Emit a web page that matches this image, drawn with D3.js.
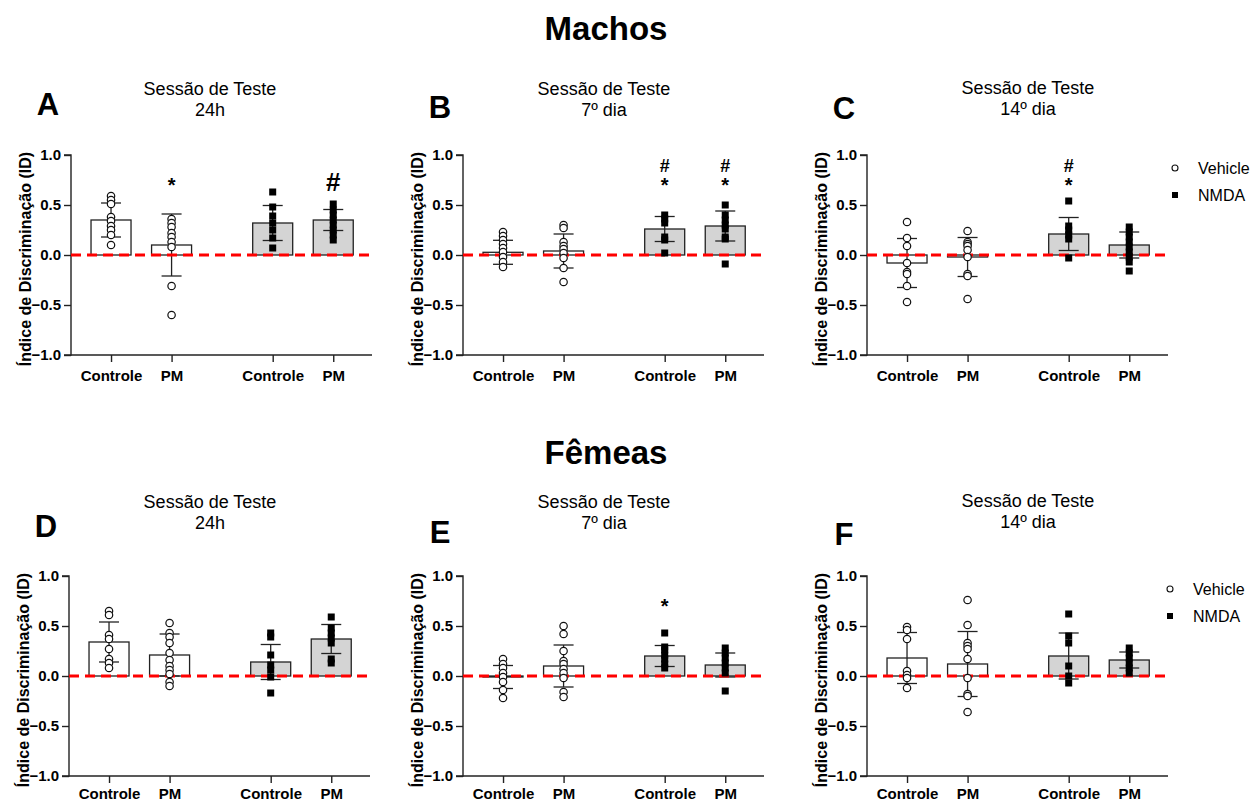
<!DOCTYPE html>
<html>
<head>
<meta charset="utf-8">
<script src="https://cdn.jsdelivr.net/npm/d3@7"></script>
<style>
  body { margin: 0; background: #fff; }
  svg { font-family: "Liberation Sans", Arial, sans-serif; }
</style>
</head>
<body>
<div id="chart"></div>
<script>
// svg size
var svgWidth = 1252;
var svgHeight = 803;

// groups on the x axis (vehicle, vehicle, NMDA, NMDA)
var groupLabels = ["Controle", "PM", "Controle", "PM"];
var groupTreatment = ["Vehicle", "Vehicle", "NMDA", "NMDA"];
var yTicks = [-1.0, -0.5, 0.0, 0.5, 1.0];

// ---- Machos ----
var machos24Mean = [0.35, 0.10, 0.32, 0.35];
var machos24Sd = [0.17, 0.31, 0.175, 0.105];
var machos24Points = [
  [0.59, 0.55, 0.51, 0.38, 0.34, 0.29, 0.25, 0.20, 0.10],
  [0.36, 0.32, 0.28, 0.22, 0.18, 0.13, 0.08, -0.31, -0.60],
  [0.63, 0.48, 0.39, 0.32, 0.25, 0.17, 0.07],
  [0.51, 0.45, 0.40, 0.35, 0.30, 0.25, 0.20, 0.15]
];
var machos24Marks = [[], ["*"], [], ["#"]];

var machos7Mean = [0.027, 0.04, 0.26, 0.29];
var machos7Sd = [0.12, 0.17, 0.125, 0.15];
var machos7Points = [
  [0.23, 0.19, 0.15, 0.11, 0.07, 0.03, -0.02, -0.07, -0.12],
  [0.30, 0.27, 0.13, 0.09, 0.06, 0.02, -0.03, -0.13, -0.27],
  [0.40, 0.36, 0.32, 0.18, 0.15, 0.02],
  [0.50, 0.40, 0.35, 0.30, 0.26, 0.18, 0.16, -0.09]
];
var machos7Marks = [[], [], ["*", "#"], ["*", "#"]];

var machos14Mean = [-0.08, -0.02, 0.21, 0.10];
var machos14Sd = [0.245, 0.195, 0.165, 0.13];
var machos14Points = [
  [0.33, 0.17, 0.09, -0.08, -0.17, -0.19, -0.31, -0.47],
  [0.24, 0.13, 0.11, 0.09, 0.05, -0.02, -0.19, -0.21, -0.44],
  [0.54, 0.29, 0.25, 0.20, 0.16, -0.03],
  [0.28, 0.23, 0.18, 0.13, 0.08, 0.03, -0.02, -0.07, -0.16]
];
var machos14Marks = [[], [], ["*", "#"], []];

// ---- Fêmeas ----
var femeas24Mean = [0.34, 0.21, 0.14, 0.37];
var femeas24Sd = [0.20, 0.21, 0.175, 0.145];
var femeas24Points = [
  [0.65, 0.61, 0.41, 0.37, 0.27, 0.17, 0.13, 0.08],
  [0.53, 0.43, 0.39, 0.33, 0.23, 0.16, 0.10, 0.06, 0.02, -0.06, -0.10],
  [0.43, 0.39, 0.21, 0.11, 0.06, -0.01, -0.17],
  [0.59, 0.48, 0.43, 0.38, 0.33, 0.17, 0.13]
];
var femeas24Marks = [[], [], [], []];

var femeas7Mean = [-0.01, 0.10, 0.20, 0.11];
var femeas7Sd = [0.115, 0.21, 0.105, 0.12];
var femeas7Points = [
  [0.17, 0.12, 0.08, 0.03, -0.01, -0.06, -0.14, -0.22],
  [0.50, 0.42, 0.25, 0.15, 0.12, 0.07, 0.03, -0.02, -0.16, -0.21],
  [0.43, 0.29, 0.26, 0.21, 0.17, 0.12, 0.08],
  [0.28, 0.23, 0.18, 0.13, 0.08, 0.03, -0.15]
];
var femeas7Marks = [[], [], ["*"], []];

var femeas14Mean = [0.18, 0.12, 0.20, 0.16];
var femeas14Sd = [0.255, 0.325, 0.23, 0.08];
var femeas14Points = [
  [0.49, 0.46, 0.37, 0.05, 0.01, -0.02, -0.12],
  [0.76, 0.51, 0.33, 0.30, 0.27, 0.17, -0.02, -0.18, -0.20, -0.36],
  [0.62, 0.40, 0.33, 0.10, 0.00, -0.07],
  [0.28, 0.23, 0.18, 0.13, 0.08, 0.03]
];
var femeas14Marks = [[], [], [], []];

// layout of the six panels (pixel positions of the axes)
var panels = [
  {letter: "A", sub: "24h",     left: 71,  top: 155, pad: 8, titleX: 210,  titleY: 95,  letterY: 115, legend: false, mean: machos24Mean, sd: machos24Sd, points: machos24Points, marks: machos24Marks},
  {letter: "B", sub: "7º dia",  left: 463, top: 155, pad: 8, titleX: 604,  titleY: 95,  letterY: 118, legend: false, mean: machos7Mean,  sd: machos7Sd,  points: machos7Points,  marks: machos7Marks},
  {letter: "C", sub: "14º dia", left: 867, top: 155, pad: 8, titleX: 1028, titleY: 94,  letterY: 119, legend: 1175,  mean: machos14Mean, sd: machos14Sd, points: machos14Points, marks: machos14Marks},
  {letter: "D", sub: "24h",     left: 69,  top: 576, pad: 5, titleX: 210,  titleY: 508, letterY: 537, legend: false, mean: femeas24Mean, sd: femeas24Sd, points: femeas24Points, marks: femeas24Marks},
  {letter: "E", sub: "7º dia",  left: 463, top: 576, pad: 5, titleX: 604,  titleY: 508, letterY: 543, legend: false, mean: femeas7Mean,  sd: femeas7Sd,  points: femeas7Points,  marks: femeas7Marks},
  {letter: "F", sub: "14º dia", left: 867, top: 576, pad: 5, titleX: 1028, titleY: 507, letterY: 545, legend: 1170,  mean: femeas14Mean, sd: femeas14Sd, points: femeas14Points, marks: femeas14Marks}
];

var plotWidth = 301;
var plotHeight = 200;
var barWidth = 40;
// slot index of each group (gap between vehicle and NMDA pairs)
var slots = [0, 1, 2.67, 3.67];

var svg = d3.select("#chart")
  .append("svg")
  .attr("width", svgWidth)
  .attr("height", svgHeight);

// sex titles
svg.append("text")
  .attr("x", 606).attr("y", 40)
  .attr("text-anchor", "middle")
  .attr("font-size", 33).attr("font-weight", "bold")
  .text("Machos");
svg.append("text")
  .attr("x", 606).attr("y", 464)
  .attr("text-anchor", "middle")
  .attr("font-size", 33).attr("font-weight", "bold")
  .text("Fêmeas");

panels.forEach(function(p) {
  drawPanel(p);
});

function drawPanel(p) {
  var g = svg.append("g")
    .attr("transform", `translate(${p.left},${p.top})`);

  var yScale = d3.scaleLinear()
    .domain([-1, 1])
    .range([plotHeight, 0]);

  var xScale = d3.scaleLinear()
    .domain([-0.661, 4.31])
    .range([0, plotWidth]);

  // titles and panel letter
  svg.append("text")
    .attr("x", p.titleX).attr("y", p.titleY)
    .attr("text-anchor", "middle")
    .attr("font-size", 18)
    .text("Sessão de Teste");
  svg.append("text")
    .attr("x", p.titleX).attr("y", p.titleY + 21)
    .attr("text-anchor", "middle")
    .attr("font-size", 18)
    .text(p.sub);
  svg.append("text")
    .attr("x", p.left - 23).attr("y", p.letterY)
    .attr("text-anchor", "middle")
    .attr("font-size", 31).attr("font-weight", "bold")
    .text(p.letter);

  // y axis
  var yAxis = d3.axisLeft(yScale)
    .tickValues(yTicks)
    .tickSize(7)
    .tickPadding(3)
    .tickFormat(d3.format(".1f"));
  var yG = g.append("g").call(yAxis);
  yG.selectAll("text")
    .attr("font-size", 15).attr("font-weight", "bold")
    .attr("fill", "#000")
    .attr("font-family", "Liberation Sans, Arial, sans-serif");
  yG.selectAll("line, path").attr("stroke", "#222").attr("stroke-width", 1.4);
  yG.select(".domain").attr("d", `M-7,0H0V${plotHeight}H-7`);

  // x axis
  var xAxis = d3.axisBottom(xScale)
    .tickValues(slots)
    .tickSize(7)
    .tickPadding(p.pad)
    .tickFormat((d, i) => groupLabels[i]);
  var xG = g.append("g")
    .attr("transform", `translate(0,${plotHeight})`)
    .call(xAxis);
  xG.selectAll("text")
    .attr("font-size", 15).attr("font-weight", "bold")
    .attr("fill", "#000")
    .attr("font-family", "Liberation Sans, Arial, sans-serif");
  xG.selectAll("line, path").attr("stroke", "#222").attr("stroke-width", 1.4);
  xG.select(".domain").attr("d", `M0,0H${plotWidth}`);

  // y axis label
  g.append("text")
    .attr("transform", "rotate(-90)")
    .attr("x", -plotHeight / 2 - 4)
    .attr("y", -46)
    .attr("dy", "0.35em")
    .attr("text-anchor", "middle")
    .attr("font-size", 16).attr("font-weight", "bold")
    .text("Índice de Discriminação (ID)");

  var groups = p.mean.map(function(m, i) {
    return {mean: m, sd: p.sd[i], points: p.points[i], marks: p.marks[i], treat: groupTreatment[i], slot: slots[i]};
  });

  // bars
  g.selectAll("rect.bar")
    .data(groups)
    .enter()
    .append("rect")
    .attr("class", "bar")
    .attr("x", d => xScale(d.slot) - barWidth / 2)
    .attr("y", d => yScale(Math.max(d.mean, 0)))
    .attr("width", barWidth)
    .attr("height", d => Math.abs(yScale(d.mean) - yScale(0)))
    .attr("fill", d => d.treat == "NMDA" ? "#d4d4d4" : "#fff")
    .attr("stroke", "#222")
    .attr("stroke-width", 1.3);

  // error bars
  var err = g.append("g").attr("stroke", "#222").attr("stroke-width", 1.3);
  err.selectAll("line.v")
    .data(groups).enter().append("line")
    .attr("x1", d => xScale(d.slot)).attr("x2", d => xScale(d.slot))
    .attr("y1", d => yScale(d.mean + d.sd)).attr("y2", d => yScale(d.mean - d.sd));
  err.selectAll("line.top")
    .data(groups).enter().append("line")
    .attr("x1", d => xScale(d.slot) - 10).attr("x2", d => xScale(d.slot) + 10)
    .attr("y1", d => yScale(d.mean + d.sd)).attr("y2", d => yScale(d.mean + d.sd));
  err.selectAll("line.bot")
    .data(groups).enter().append("line")
    .attr("x1", d => xScale(d.slot) - 10).attr("x2", d => xScale(d.slot) + 10)
    .attr("y1", d => yScale(d.mean - d.sd)).attr("y2", d => yScale(d.mean - d.sd));

  // red dashed zero line
  g.append("line")
    .attr("x1", 0).attr("x2", plotWidth)
    .attr("y1", yScale(0)).attr("y2", yScale(0))
    .attr("stroke", "#ff0000")
    .attr("stroke-width", 3)
    .attr("stroke-dasharray", "10,6");

  // individual points
  groups.forEach(function(d) {
    if (d.treat == "Vehicle") {
      g.selectAll(null)
        .data(d.points).enter().append("circle")
        .attr("cx", xScale(d.slot))
        .attr("cy", v => yScale(v))
        .attr("r", 3.7)
        .attr("fill", "#fff")
        .attr("stroke", "#111")
        .attr("stroke-width", 1.2);
    } else {
      g.selectAll(null)
        .data(d.points).enter().append("rect")
        .attr("x", xScale(d.slot) - 3.5)
        .attr("y", v => yScale(v) - 3.5)
        .attr("width", 7).attr("height", 7)
        .attr("fill", "#000");
    }
    // significance marks
    d.marks.forEach(function(m) {
      var big = (m == "#" && d.marks.length == 1);
      g.append("text")
        .attr("x", xScale(d.slot))
        .attr("y", m == "*" ? 37 : (big ? 36 : 17))
        .attr("text-anchor", "middle")
        .attr("font-size", m == "*" ? 20 : (big ? 26 : 18))
        .attr("font-weight", m == "*" || big ? "bold" : "600")
        .text(m);
    });
  });

  // legend
  if (p.legend) {
    var lg = svg.append("g")
      .attr("transform", `translate(${p.legend},${p.top + 13})`);
    lg.append("circle")
      .attr("cx", 0).attr("cy", 0).attr("r", 3)
      .attr("fill", "#fff").attr("stroke", "#111").attr("stroke-width", 1.1);
    lg.append("text")
      .attr("x", 23).attr("y", 0).attr("dy", "0.35em")
      .attr("font-size", 16)
      .text("Vehicle");
    lg.append("rect")
      .attr("x", -3).attr("y", 24).attr("width", 6).attr("height", 6)
      .attr("fill", "#000");
    lg.append("text")
      .attr("x", 23).attr("y", 27).attr("dy", "0.35em")
      .attr("font-size", 16)
      .text("NMDA");
  }
}
</script>
</body>
</html>
